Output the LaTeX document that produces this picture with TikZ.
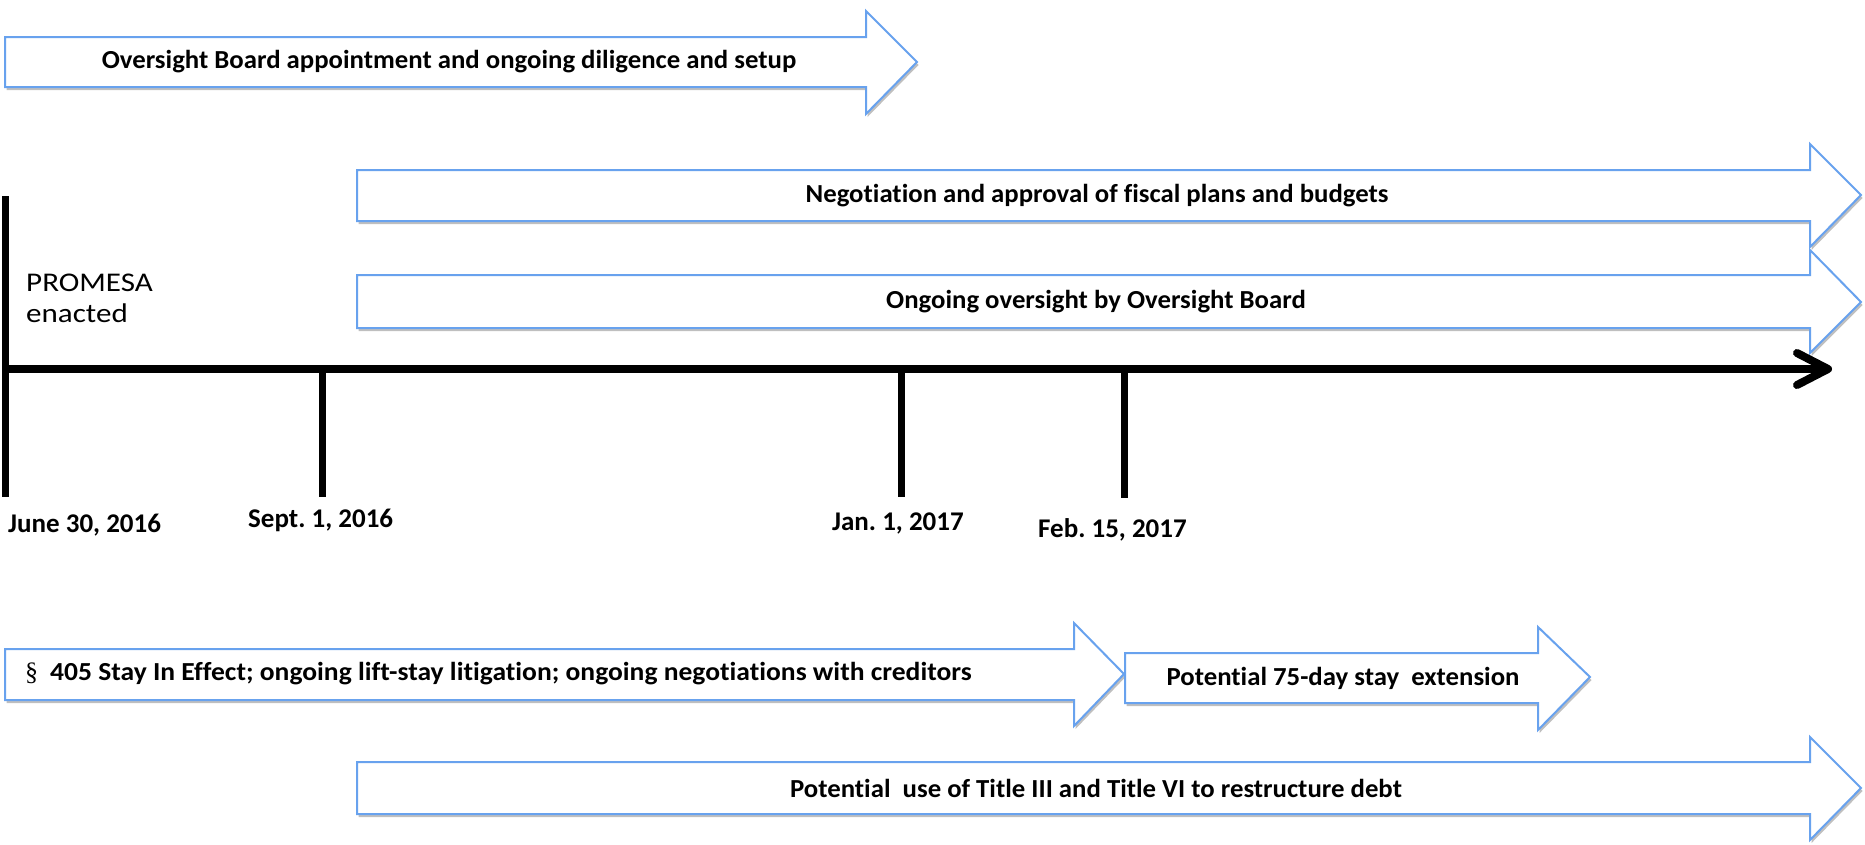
\documentclass[tikz,border=0pt]{standalone}
\usepackage{fontspec}
\setmainfont{Carlito}[Ligatures=NoCommon]
\newfontfamily\sectfont{Liberation Serif}
\usetikzlibrary{shadows}
\definecolor{arrowblue}{RGB}{104,162,238}
\tikzset{
  barrow/.style={draw=arrowblue, line width=2pt, fill=white, line join=miter,
    drop shadow={shadow xshift=1.5pt, shadow yshift=-3pt, fill=black!50, opacity=0.5}},
  btext/.style={font=\bfseries\fontsize{26}{31}\selectfont, inner sep=0pt},
  datetext/.style={font=\bfseries\fontsize{27}{32}\selectfont, inner sep=0pt, anchor=base west},
  tline/.style={line width=8pt, black},
}
\newcommand{\blockarrow}[8]{%
  \draw[barrow] (#1,#4) -- (#2,#4) -- (#2,#6) -- (#3,#8) -- (#2,#7) -- (#2,#5) -- (#1,#5) -- cycle;}
\newcommand{\wide}[2][1.03]{\scalebox{#1}[1]{#2}}
\begin{document}
\frenchspacing
\begin{tikzpicture}[x=1pt,y=-1pt]
\useasboundingbox (0,0) rectangle (1865,844);
% block arrows
\blockarrow{5}{866}{917}{37}{87}{11}{114}{62}
\node[btext] (a1) at (449,62) {\wide{Oversight Board appointment and ongoing diligence and setup}};
\blockarrow{357}{1810}{1861}{170}{221}{144}{247}{195}
\node[btext] (a2) at (1097,196) {\wide{Negotiation and approval of fiscal plans and budgets}};
\blockarrow{357}{1810}{1861}{275}{328}{250}{353}{302}
\node[btext] (a3) at (1096,302) {\wide{Ongoing oversight by Oversight Board}};
\blockarrow{5}{1074}{1124}{649}{700}{623}{726}{674}
\node[btext, anchor=west] (a4) at (25,674) {{\mdseries\sectfont §}\hspace{12pt}\wide[1.06]{405 Stay In Effect; ongoing lift-stay litigation; ongoing negotiations with creditors}};
\blockarrow{1125}{1538}{1590}{653}{703}{627}{730}{677}
\node[btext] (a5) at (1343,678) {\wide{Potential 75-day stay\ \ extension}};
\blockarrow{357}{1810}{1861}{762}{814}{737}{840}{788}
\node[btext] (a6) at (1096,788) {\wide{Potential\ \ use of Title III and Title VI to restructure debt}};
% timeline
\coordinate (t0) at (5,369);
\coordinate (tend) at (1828,369);
\coordinate (ltop) at (5,196);
\coordinate (lbot) at (5,497);
\draw[line width=7pt] (ltop) -- (lbot);
\draw[tline] (t0) -- (1822,369);
\draw[tline, line cap=round, line join=round] (1797,353) -- (tend) -- (1797,385);
\coordinate (s1) at (322,369); \coordinate (s1b) at (322,497);
\coordinate (j1) at (901,369); \coordinate (j1b) at (901,497);
\coordinate (f1) at (1124,369); \coordinate (f1b) at (1124,498);
\draw[line width=7pt] (s1) -- (s1b);
\draw[line width=7pt] (j1) -- (j1b);
\draw[line width=7pt] (f1) -- (f1b);
% labels
\node[font=\fontsize{27}{31}\selectfont, inner sep=0pt, anchor=base west, align=left] (prom) at (26,322) {\wide[1.15]{PROMESA}\\\wide[1.15]{enacted}};
\node[datetext] (d1) at (8,532) {June 30, 2016};
\node[datetext] (d2) at (248,527) {Sept. 1, 2016};
\node[datetext] (d3) at (832,530) {Jan. 1, 2017};
\node[datetext] (d4) at (1038,537) {Feb. 15, 2017};
\end{tikzpicture}
\end{document}
